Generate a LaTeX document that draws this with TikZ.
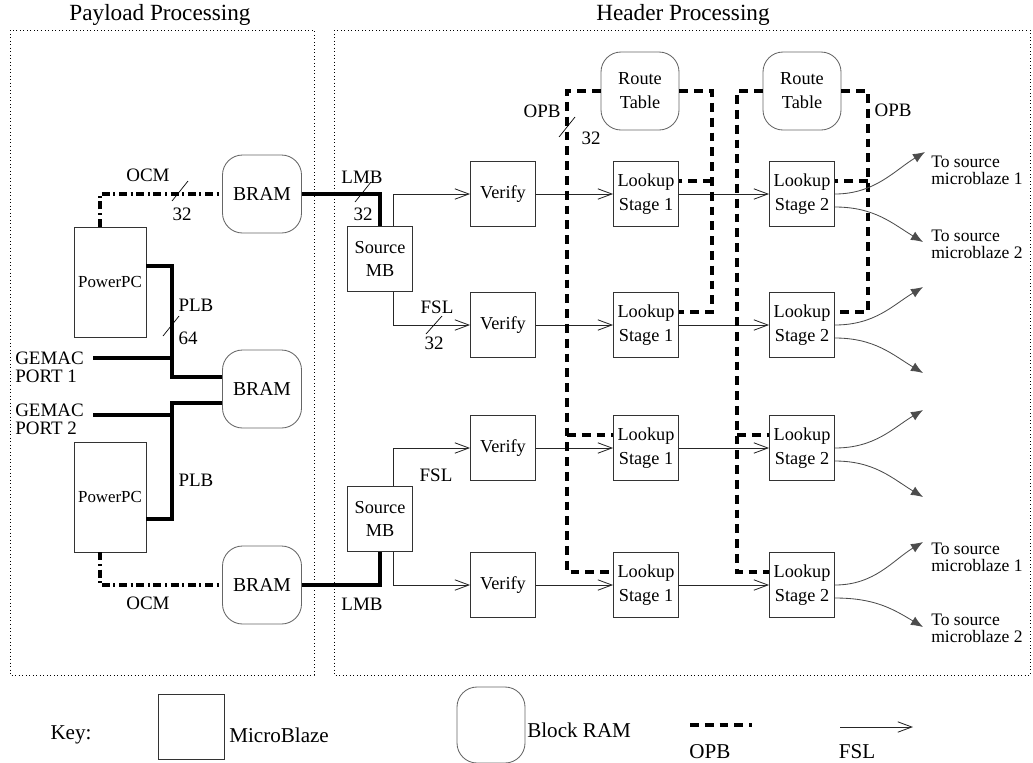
\documentclass[tikz,border=0pt]{standalone}
\usepackage{fontspec}
\setmainfont{Liberation Serif}
\usetikzlibrary{positioning, arrows.meta, calc}

\begin{document}
\begin{tikzpicture}[
    x=0.25mm, y=-0.25mm,
    mb/.style={rectangle, draw=black!80, line width=0.6pt, inner sep=0pt, minimum width=16.25mm, minimum height=16.25mm, align=center, font=\fontsize{13}{17}\selectfont},
    ppc/.style={mb, minimum width=18mm, minimum height=27.5mm, font=\fontsize{12}{14}\selectfont},
    bram/.style={rectangle, rounded corners=5mm, draw=black!60, line width=0.6pt, inner sep=0pt, minimum width=19.75mm, minimum height=19.5mm, align=center, font=\fontsize{14}{17}\selectfont},
    lbl/.style={inner sep=0pt, align=left, font=\fontsize{13.5}{13}\selectfont},
    tolbl/.style={lbl, anchor=west, font=\fontsize{12.5}{12}\selectfont},
    keytxt/.style={inner sep=0pt, font=\fontsize{15}{17}\selectfont},
    lmb/.style={line width=2.2pt},
    opb/.style={line width=2.4pt, dash pattern=on 2.2mm off 1.5mm},
    ocm/.style={line width=2.2pt, dash pattern=on 2mm off 0.9mm on 0.5mm off 0.9mm},
    fsl/.style={line width=0.6pt, draw=black!85, -{Straight Barb[length=3.5mm, width=2.6mm]}},
    outarr/.style={line width=0.6pt, draw=black!70, -{Latex[length=3mm, width=2.4mm]}},
    frame/.style={dotted, line width=0.5pt},
    buswidth/.style={line width=0.5pt}
]
    \useasboundingbox (0,0) rectangle (1033,762);

    % --- FRAMES ---
    \draw[frame] (10,30) rectangle (314,675);
    \draw[frame] (334,30) rectangle (1030,675);
    \node[font=\fontsize{16.5}{18}\selectfont] (ttl1) at (160,15) {Payload Processing};
    \node[font=\fontsize{16.5}{18}\selectfont] (ttl2) at (683,15) {Header Processing};

    % --- PAYLOAD PROCESSING ---
    \node[ppc] (ppc1) at (110,282) {PowerPC};
    \node[ppc] (ppc2) at (110,497) {PowerPC};
    \node[bram] (bram1) at (262,194) {BRAM};
    \node[bram] (bram2) at (262,389) {BRAM};
    \node[bram] (bram3) at (262,585) {BRAM};
    \node[lbl, anchor=west] (gem1) at (15,367) {GEMAC\\PORT 1};
    \node[lbl, anchor=west] (gem2) at (15,419) {GEMAC\\PORT 2};

    \coordinate (plb1) at (172,377);
    \coordinate (plb2) at (172,403);
    \coordinate (gm1) at (93,358);
    \coordinate (gm2) at (93,415);

    \draw[ocm] ($(ppc1.north)+(-10,0)$) |- (bram1.west);
    \draw[ocm] ($(ppc2.south)+(-10,0)$) |- (bram3.west);
    \draw[lmb] ($(ppc1.east)+(0,-16)$) -| (plb1) -- (plb1 -| bram2.west);
    \draw[lmb] (gm1) -- (gm1 -| plb1);
    \draw[lmb] (plb2 -| bram2.west) -- (plb2) |- ($(ppc2.east)+(0,22)$);
    \draw[lmb] (gm2) -- (gm2 -| plb2);

    \node[lbl] (ocml1) at (148,175) {OCM};
    \node[lbl] (wd1) at (182,214) {32};
    \draw[buswidth] (172,201) -- (188,181);
    \node[lbl] (plbl1) at (196,305) {PLB};
    \node[lbl] (wd2) at (188,338) {64};
    \draw[buswidth] (163,336) -- (179,316);
    \node[lbl] (plbl2) at (196,480) {PLB};
    \node[lbl] (ocml2) at (148,603) {OCM};

    % --- HEADER PROCESSING ---
    \node[mb] (mb1) at (380,259) {Source\\MB};
    \node[mb] (mb2) at (380,519) {Source\\MB};

    \node[mb] (ver1) at (503,194) {Verify};
    \node[mb] (ver2) at (503,325) {Verify};
    \node[mb] (ver3) at (503,448) {Verify};
    \node[mb] (ver4) at (503,585) {Verify};

    \node[mb] (lkA1) at (646,194) {Lookup\\Stage 1};
    \node[mb] (lkA2) at (646,325) {Lookup\\Stage 1};
    \node[mb] (lkA3) at (646,448) {Lookup\\Stage 1};
    \node[mb] (lkA4) at (646,585) {Lookup\\Stage 1};

    \node[mb] (lkB1) at (802,194) {Lookup\\Stage 2};
    \node[mb] (lkB2) at (802,325) {Lookup\\Stage 2};
    \node[mb] (lkB3) at (802,448) {Lookup\\Stage 2};
    \node[mb] (lkB4) at (802,585) {Lookup\\Stage 2};

    \node[bram, minimum width=19.5mm, font=\fontsize{13}{17}\selectfont] (rt1) at (640,91) {Route\\Table};
    \node[bram, minimum width=19.5mm, font=\fontsize{13}{17}\selectfont] (rt2) at (802,91) {Route\\Table};

    % LMB and FSL links
    \draw[lmb] (bram1.east) -| (mb1.north);
    \draw[lmb] (bram3.east) -| (mb2.south);
    \draw[fsl] ($(mb1.north)+(13,0)$) |- (ver1.west);
    \draw[fsl] ($(mb1.south)+(13,0)$) |- (ver2.west);
    \draw[fsl] ($(mb2.north)+(13,0)$) |- (ver3.west);
    \draw[fsl] ($(mb2.south)+(13,0)$) |- (ver4.west);

    \draw[fsl] (ver1) -- (lkA1);
    \draw[fsl] (ver2) -- (lkA2);
    \draw[fsl] (ver3) -- (lkA3);
    \draw[fsl] (ver4) -- (lkA4);
    \draw[fsl] (lkA1) -- (lkB1);
    \draw[fsl] (lkA2) -- (lkB2);
    \draw[fsl] (lkA3) -- (lkB3);
    \draw[fsl] (lkA4) -- (lkB4);

    \node[lbl] (lmbl1) at (362,177) {LMB};
    \node[lbl] (wd3) at (363,214) {32};
    \draw[buswidth] (355,202) -- (371,182);
    \node[lbl] (fsll1) at (437,307) {FSL};
    \node[lbl] (wd4) at (434,343) {32};
    \draw[buswidth] (426,334) -- (442,316);
    \node[lbl] (fsll2) at (436,475) {FSL};
    \node[lbl] (lmbl2) at (362,604) {LMB};

    % OPB buses
    \draw[opb] (rt1.west) -| ($(lkA4.west)+(-46,-13)$) -- ($(lkA4.west)+(0,-13)$);
    \draw[opb] ($(lkA3.west)+(-46,-13)$) -- ($(lkA3.west)+(0,-13)$);
    \draw[opb] (rt1.east) -| ($(lkA2.east)+(33,-13)$) -- ($(lkA2.east)+(0,-13)$);
    \draw[opb] ($(lkA1.east)+(33,-13)$) -- ($(lkA1.east)+(0,-13)$);
    \draw[opb] (rt2.west) -| ($(lkB4.west)+(-32,-13)$) -- ($(lkB4.west)+(0,-13)$);
    \draw[opb] ($(lkB3.west)+(-32,-13)$) -- ($(lkB3.west)+(0,-13)$);
    \draw[opb] (rt2.east) -| ($(lkB2.east)+(33,-13)$) -- ($(lkB2.east)+(0,-13)$);
    \draw[opb] ($(lkB1.east)+(33,-13)$) -- ($(lkB1.east)+(0,-13)$);

    \node[lbl] (opbl1) at (542,111) {OPB};
    \node[lbl] (wd5) at (591,138) {32};
    \draw[buswidth] (559,137) -- (575,117);
    \node[lbl] (opbl2) at (893,110) {OPB};

    % outputs to source microblazes
    \coordinate (o1u) at (925,152);
    \coordinate (o1d) at (923,242);
    \coordinate (o2u) at (923,287);
    \coordinate (o2d) at (923,373);
    \coordinate (o3u) at (923,410);
    \coordinate (o3d) at (923,497);
    \coordinate (o4u) at (923,542);
    \coordinate (o4d) at (923,627);

    \draw[outarr] (lkB1.east) .. controls +(40,0) and +(-30,18) .. (o1u);
    \draw[outarr] ($(lkB1.east)+(0,13)$) .. controls +(40,0) and +(-30,-18) .. (o1d);
    \draw[outarr] (lkB2.east) .. controls +(40,0) and +(-30,18) .. (o2u);
    \draw[outarr] ($(lkB2.east)+(0,13)$) .. controls +(40,0) and +(-30,-18) .. (o2d);
    \draw[outarr] (lkB3.east) .. controls +(40,0) and +(-30,18) .. (o3u);
    \draw[outarr] ($(lkB3.east)+(0,13)$) .. controls +(40,0) and +(-30,-18) .. (o3d);
    \draw[outarr] (lkB4.east) .. controls +(40,0) and +(-30,18) .. (o4u);
    \draw[outarr] ($(lkB4.east)+(0,13)$) .. controls +(40,0) and +(-30,-18) .. (o4d);

    \node[tolbl] (to1) at (931,170) {To source\\microblaze 1};
    \node[tolbl] (to2) at (931,244) {To source\\microblaze 2};
    \node[tolbl] (to3) at (931,557) {To source\\microblaze 1};
    \node[tolbl] (to4) at (931,628) {To source\\microblaze 2};

    % --- KEY ---
    \node[keytxt] (key) at (71,735) {Key:};
    \node[mb, minimum width=16.5mm] (kmb) at (191,727) {};
    \node[keytxt, anchor=west] (kmbt) at (229,735) {MicroBlaze};
    \node[bram, minimum width=17mm, minimum height=19mm] (kbram) at (491,725) {};
    \node[keytxt, anchor=west] (kbramt) at (527,730) {Block RAM};
    \coordinate (ko1) at (690,725);
    \coordinate (ko2) at (752,725);
    \draw[opb] (ko1) -- (ko2);
    \node[keytxt] (kopb) at (710,752) {OPB};
    \coordinate (kf1) at (840,727);
    \coordinate (kf2) at (913,727);
    \draw[fsl] (kf1) -- (kf2);
    \node[keytxt] (kfsl) at (857,752) {FSL};
\end{tikzpicture}
\end{document}
